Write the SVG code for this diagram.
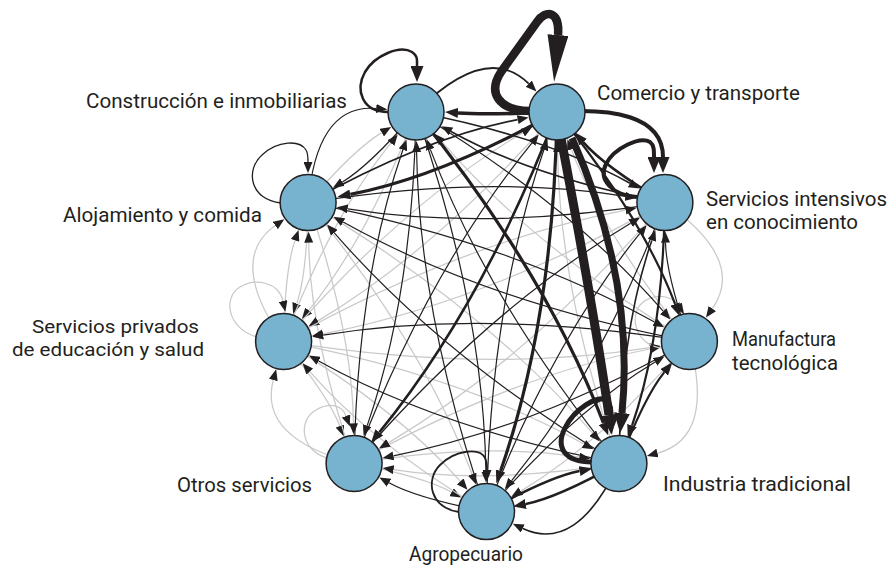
<svg xmlns="http://www.w3.org/2000/svg" width="891" height="567" viewBox="0 0 891 567">
<defs>
<marker id="s" viewBox="0 0 10 8" refX="0" refY="4" markerWidth="11" markerHeight="9" markerUnits="userSpaceOnUse" orient="auto" preserveAspectRatio="none"><path d="M0,0L10,4L0,8z" style="fill:#231f20;stroke:none"/></marker>
<marker id="m" viewBox="0 0 13 10" refX="0" refY="5" markerWidth="13" markerHeight="10" markerUnits="userSpaceOnUse" orient="auto"><path d="M0,0L13,5L0,10z" style="fill:#231f20;stroke:none"/></marker>
<marker id="ml" viewBox="0 0 16 13" refX="0" refY="6.5" markerWidth="16" markerHeight="13" markerUnits="userSpaceOnUse" orient="auto"><path d="M0,0L16,6.5L0,13z" style="fill:#231f20;stroke:none"/></marker>
<marker id="l" viewBox="0 0 20 16" refX="0" refY="8" markerWidth="20" markerHeight="16" markerUnits="userSpaceOnUse" orient="auto"><path d="M0,0L20,8L0,16z" style="fill:#231f20;stroke:none"/></marker>
<marker id="xl" viewBox="0 0 47 21" refX="0" refY="10.5" markerWidth="47" markerHeight="21" markerUnits="userSpaceOnUse" orient="auto"><path d="M0,0L47,10.5L0,21z" style="fill:#231f20;stroke:none"/></marker>
</defs>
<style>
#connectors path{fill:none}
.g{stroke:#c9c9c9;stroke-width:1.25;marker-end:url(#s)}
.k1{stroke:#231f20;stroke-width:1.2;marker-end:url(#s)}
.k15{stroke:#231f20;stroke-width:1.6;marker-end:url(#s)}
.k2{stroke:#231f20;stroke-width:2.2;marker-end:url(#m)}
.k3{stroke:#231f20;stroke-width:3.2;marker-end:url(#m)}
.node circle{fill:#77b2cf;stroke:#231f20;stroke-width:1.5}
.node text{font-family:Roboto,"Noto Sans",sans-serif;font-size:20px;fill:#231f20}
.node text.sm{font-size:19px}
</style>
<rect width="891" height="567" fill="#ffffff"/>
<g id="connectors">
<g id="gray-edges">
<path class="g" d="M664.9,202.6 Q746.6,259.8 712.3,308.6"/>
<path class="g" d="M689.4,341.4 Q715.2,437.7 657.5,453.1"/>
<path class="g" d="M354.1,463.4 Q424.2,476.9 451.6,492.2"/>
<path class="g" d="M354.1,463.4 Q257.9,437.7 273.3,380.0"/>
<path class="g" d="M283.6,341.4 Q328.6,396.8 339.8,426.0"/>
<path class="g" d="M283.6,341.4 Q226.5,259.8 275.3,225.5"/>
<path class="g" d="M308.1,202.6 Q307.0,274.0 296.7,303.6"/>
<path class="g" d="M283.6,341.4 Q284.8,270.0 295.0,240.4"/>
<path class="g" d="M308.1,202.6 Q354.8,148.7 381.7,132.6"/>
<path class="g" d="M689.4,341.4 Q604.9,237.3 571.3,149.4"/>
<path class="g" d="M689.4,341.4 Q601.6,442.7 520.8,491.1"/>
<path class="g" d="M618.9,463.4 Q486.5,484.6 393.6,469.7"/>
<path class="g" d="M354.1,463.4 Q486.5,442.2 579.4,457.1"/>
<path class="g" d="M486.5,511.6 Q371.4,442.7 309.8,371.6"/>
<path class="g" d="M283.6,341.4 Q398.7,410.3 460.3,481.4"/>
<path class="g" d="M354.1,463.4 Q310.2,336.7 308.7,242.6"/>
<path class="g" d="M308.1,202.6 Q352.0,329.3 353.5,423.4"/>
<path class="g" d="M283.6,341.4 Q331.5,216.1 390.8,143.1"/>
<path class="g" d="M416,112 Q368.1,237.3 308.8,310.4"/>
<path class="g" d="M618.9,463.4 Q559.8,292.7 557.6,152.0"/>
<path class="g" d="M354.1,463.4 Q512.0,375.6 650.1,349.0"/>
<path class="g" d="M283.6,341.4 Q461.0,375.6 583.9,444.0"/>
<path class="g" d="M308.1,202.6 Q422.0,342.8 472.2,474.2"/>
<path class="g" d="M283.6,341.4 Q401.9,204.8 522.7,132.6"/>
<path class="g" d="M557,112 Q438.6,248.6 317.9,320.9"/>
<path class="g" d="M689.4,341.4 Q534.3,248.6 442.2,142.2"/>
<path class="g" d="M664.9,202.6 Q530.4,357.9 388.4,442.9"/>
<path class="g" d="M283.6,341.4 Q486.5,373.9 649.9,347.7"/>
<path class="g" d="M283.6,341.4 Q463.1,241.5 625.6,210.2"/>
<path class="g" d="M664.9,202.6 Q485.3,302.5 322.9,333.8"/>
<path class="g" d="M308.1,202.6 Q484.4,308.1 592.7,433.2"/>
<path class="g" d="M257,337 C228,329 222,298 240,287 C256,277 279,283 283,301"/>
<path class="g" d="M327,458 C300,450 298,420 316,410 C330,402 342,405 346,416"/>
<path class="g" d="M662,348 C636,346 628,316 642,303 C655,292 672,296 678,305"/>
</g>
<g id="black-edges">
<path class="k1" d="M689.4,341.4 Q666.1,274.0 665.5,242.6"/>
<path class="k1" d="M486.5,511.6 Q416.4,498.1 389.0,482.8"/>
<path class="k1" d="M308.1,202.6 Q316.8,103.4 376.2,108.5"/>
<path class="k1" d="M416,112 Q369.3,165.9 342.4,182.0"/>
<path class="k1" d="M486.5,511.6 Q574.3,410.3 655.1,362.0"/>
<path class="k15" d="M618.9,463.4 Q621.0,329.3 651.8,240.4"/>
<path class="k15" d="M308.1,202.6 Q425.3,137.4 517.7,119.6"/>
<path class="k15" d="M416,112 Q547.7,137.4 630.0,183.2"/>
<path class="k15" d="M664.9,202.6 Q533.2,177.2 451.0,131.5"/>
<path class="k1" d="M664.9,202.6 Q600.4,371.4 511.7,480.6"/>
<path class="k1" d="M486.5,511.6 Q551.0,342.8 639.7,233.7"/>
<path class="k1" d="M689.4,341.4 Q531.5,429.2 393.4,455.8"/>
<path class="k1" d="M618.9,463.4 Q441.5,429.2 318.6,360.9"/>
<path class="k1" d="M618.9,463.4 Q442.6,357.9 334.3,232.8"/>
<path class="k1" d="M354.1,463.4 Q356.9,282.7 402.9,149.8"/>
<path class="k1" d="M416,112 Q413.2,292.6 367.2,425.6"/>
<path class="k1" d="M308.1,202.6 Q486.5,174.1 625.4,196.3"/>
<path class="k1" d="M664.9,202.6 Q486.5,231.1 347.6,208.9"/>
<path class="k1" d="M416,112 Q571.0,204.8 663.2,311.2"/>
<path class="k1" d="M486.5,511.6 Q489.8,306.2 543.9,149.8"/>
<path class="k1" d="M354.1,463.4 Q488.6,308.1 630.6,223.2"/>
<path class="k1" d="M689.4,341.4 Q486.5,308.9 323.1,335.1"/>
<path class="k1" d="M486.5,511.6 Q419.3,317.4 416.6,152.0"/>
<path class="k1" d="M416,112 Q483.2,306.2 485.9,471.6"/>
<path class="k1" d="M354.1,463.4 Q427.4,271.5 531.8,143.1"/>
<path class="k1" d="M308.1,202.6 Q509.8,241.5 654.5,322.0"/>
<path class="k1" d="M689.4,341.4 Q487.6,302.5 343.1,222.1"/>
<path class="k1" d="M618.9,463.4 Q489.3,303.9 430.3,149.4"/>
<path class="k15" d="M416,112 Q486.5,41.6 528.7,83.7" style="stroke-width:1.8"/>
<path class="k15" d="M618.9,463.4 Q576.8,553.7 522.8,528.5"/>
<path class="k2" d="M664.9,202.6 Q603.7,165.9 583.2,142.2" style="stroke-width:2.6"/>
<path class="k2" d="M618.9,463.4 Q644.4,396.8 664.2,372.4"/>
<path class="k2" d="M557,112 Q641.5,216.1 675.1,304.0"/>
<path class="k2" d="M664.9,202.6 Q662.8,336.7 632.0,425.6"/>
<path class="k2" d="M618.9,463.4 Q556.6,498.1 525.8,504.0" style="stroke-width:2.6"/>
<path class="k2" d="M486.5,511.6 Q548.8,476.9 579.6,471.0" style="stroke-width:2.6"/>
<path class="k2" d="M557,112 Q483.7,303.9 379.3,432.4" style="stroke-width:2.6"/>
<path class="k3" d="M557,112 Q486.5,115 458,113" style="stroke-width:3.6"/>
<path class="k3" d="M557,112 Q439.8,177.2 350.3,194.4"/>
<path class="k3" d="M557,112 Q553.7,317.4 500.6,471.0"/>
<path class="k3" d="M416,112 Q545.6,271.5 603.5,423.2"/>
<path d="M557,112 C610,108 663,115 663,157" stroke="#231f20" stroke-width="4" marker-end="url(#ml)"/>
<path d="M561,138 Q592,300 609,415" stroke="#231f20" stroke-width="9" marker-end="url(#l)"/>
<path d="M572,138 Q635,280 622,413" stroke="#231f20" stroke-width="7" marker-end="url(#l)"/>
<path d="M530,111 C497,110 488,92 501,72 L537,22 C546,9 560,11 558,35" stroke="#231f20" stroke-width="8.5" stroke-linejoin="round" marker-end="url(#xl)"/>
<path d="M388,112 C362,112 355,90 365,72 C375,55 400,45 412,52 C418,56 417,60 417,66" stroke="#231f20" stroke-width="2.5" marker-end="url(#ml)"/>
<path d="M281,203 C250,200 245,170 262,155 C278,140 300,140 306,150 C308,153 308,156 308,162" stroke="#231f20" stroke-width="1.3" marker-end="url(#s)"/>
<path d="M637,197 C612,195 598,180 606,164 C614,148 640,136 650,142 C654,145 654,150 654,157" stroke="#231f20" stroke-width="4" marker-end="url(#ml)"/>
<path d="M592,462 C565,462 555,448 565,428 C575,408 598,395 606,400 C611,404 611,410 611,418" stroke="#231f20" stroke-width="5" marker-end="url(#ml)"/>
<path d="M459,512 C430,508 425,480 440,465 C455,450 480,447 485,458 C487,462 487,465 487,470" stroke="#231f20" stroke-width="1.8" marker-end="url(#s)"/>
</g>
</g>
<g id="node-comercio" class="node"><circle cx="557" cy="112" r="28"/><text x="597" y="100" textLength="203" lengthAdjust="spacingAndGlyphs">Comercio y transporte</text></g>
<g id="node-servicios-intensivos" class="node"><circle cx="664.9" cy="202.6" r="28"/><text x="706" y="206" textLength="181" lengthAdjust="spacingAndGlyphs">Servicios intensivos</text><text x="706" y="229" textLength="152" lengthAdjust="spacingAndGlyphs">en conocimiento</text></g>
<g id="node-manufactura" class="node"><circle cx="689.4" cy="341.4" r="28"/><text x="732" y="346" textLength="104" lengthAdjust="spacingAndGlyphs">Manufactura</text><text x="732" y="370" textLength="106" lengthAdjust="spacingAndGlyphs">tecnológica</text></g>
<g id="node-industria" class="node"><circle cx="618.9" cy="463.4" r="28"/><text x="663" y="491" textLength="188" lengthAdjust="spacingAndGlyphs">Industria tradicional</text></g>
<g id="node-agropecuario" class="node"><circle cx="486.5" cy="511.6" r="28"/><text x="409" y="561" textLength="114" lengthAdjust="spacingAndGlyphs">Agropecuario</text></g>
<g id="node-otros" class="node"><circle cx="354.1" cy="463.4" r="28"/><text x="177" y="492" textLength="135" lengthAdjust="spacingAndGlyphs">Otros servicios</text></g>
<g id="node-privados" class="node"><circle cx="283.6" cy="341.4" r="28"/><text class="sm" x="32" y="333" textLength="167" lengthAdjust="spacingAndGlyphs">Servicios privados</text><text class="sm" x="12" y="356" textLength="192" lengthAdjust="spacingAndGlyphs">de educación y salud</text></g>
<g id="node-alojamiento" class="node"><circle cx="308.1" cy="202.6" r="28"/><text x="63" y="222" textLength="199" lengthAdjust="spacingAndGlyphs">Alojamiento y comida</text></g>
<g id="node-construccion" class="node"><circle cx="416" cy="112" r="28"/><text x="86" y="108" textLength="261" lengthAdjust="spacingAndGlyphs">Construcción e inmobiliarias</text></g>
</svg>
